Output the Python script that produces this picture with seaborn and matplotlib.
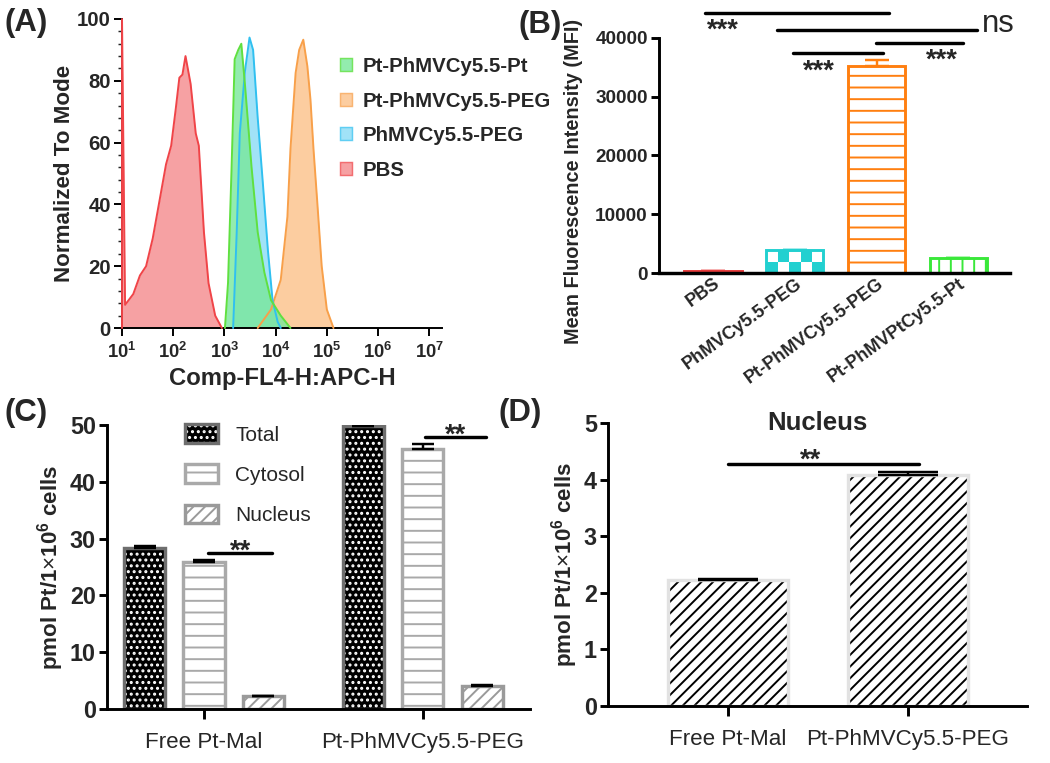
import numpy as np
import pandas as pd
import matplotlib
matplotlib.use('Agg')
import matplotlib.pyplot as plt
import seaborn as sns
from matplotlib.patches import Patch, Rectangle
from matplotlib.colors import ListedColormap
from matplotlib.ticker import MultipleLocator, LogLocator, NullFormatter

# (A) flow histograms: log10(intensity) and % of mode
pbs_log = [1.0, 1.0, 1.06, 1.22, 1.35, 1.47, 1.60, 1.73, 1.86, 1.96, 2.05, 2.12, 2.18, 2.24,
           2.34, 2.44, 2.50, 2.60, 2.69, 2.82, 2.95]
pbs_y = [0, 100, 7.5, 11, 17, 20, 29, 41, 53, 59, 71, 81, 82, 88, 79, 63, 59, 31, 14.5, 4, 0]
peg_log = [3.65, 3.91, 4.10, 4.23, 4.29, 4.39, 4.46, 4.54, 4.62, 4.68, 4.74, 4.81, 4.90, 5.0, 5.13]
peg_y = [0, 6, 15.6, 36, 58, 82.5, 90, 93.3, 84.7, 74, 57.8, 41.5, 20, 6, 0]
phmv_log = [3.17, 3.24, 3.30, 3.40, 3.49, 3.56, 3.65, 3.75, 3.85, 3.94, 4.04, 4.10]
phmv_y = [0, 31, 63, 83, 94, 90, 68, 47, 25, 9, 2, 0]
ptpt_log = [3.01, 3.07, 3.14, 3.20, 3.27, 3.33, 3.40, 3.53, 3.65, 3.78, 3.91, 4.10, 4.29]
ptpt_y = [0, 14.5, 52, 87, 90, 92, 79, 52, 31, 18, 9, 4, 0]

# (B) mean fluorescence intensity
b_samples = ['PBS', 'PhMVCy5.5-PEG', 'Pt-PhMVCy5.5-PEG', 'Pt-PhMVPtCy5.5-Pt']
b_mfi = [300, 3900, 35200, 2500]
b_err = [0, 0, 1100, 0]

# (C)/(D) platinum per 1e6 cells
c_groups = ['Free Pt-Mal', 'Pt-PhMVCy5.5-PEG']
c_total = [28.3, 49.8]
c_total_err = [0.4, 0.1]
c_cytosol = [25.9, 45.8]
c_cytosol_err = [0.4, 0.9]
nucleus = [2.22, 4.08]
nucleus_err = [0.03, 0.06]

sns.set_style('ticks')
plt.rcParams['font.family'] = ['Liberation Sans', 'DejaVu Sans']
plt.rcParams['mathtext.fontset'] = 'custom'
plt.rcParams['mathtext.rm'] = 'Liberation Sans'
plt.rcParams['mathtext.bf'] = 'Liberation Sans:bold'
plt.rcParams['hatch.linewidth'] = 2.0

fig = plt.figure(figsize=(15, 10.9), dpi=70)
axA = fig.add_axes([0.1162, 0.5701, 0.3048, 0.4050])
axB = fig.add_axes([0.6276, 0.6422, 0.3343, 0.3080])
axC = fig.add_axes([0.1019, 0.0708, 0.4029, 0.3722])
axD = fig.add_axes([0.5790, 0.0747, 0.3990, 0.3709])


def style_axis(ax, lw):
    sns.despine(ax=ax)
    for s in ['left', 'bottom']:
        ax.spines[s].set_linewidth(lw)
        ax.spines[s].set_color('black')
    ax.tick_params(width=lw, length=8, color='black')


def two_tone(ax, bars, face, hatch, hatch_color, edge, lw):
    # hatch and outline in different colours -> draw the outline on top
    for p in bars:
        p.set_facecolor(face)
        p.set_edgecolor(hatch_color)
        p.set_hatch(hatch)
        p.set_linewidth(0)
        ax.add_patch(Rectangle(p.get_xy(), p.get_width(), p.get_height(), fill=False,
                               edgecolor=edge, linewidth=lw, zorder=p.get_zorder() + 0.1))


# ---------- (A)
hists = {
    'PBS': (pbs_log, pbs_y, '#f04448', '#f37a7c', 0.7),
    'Pt-PhMVCy5.5-PEG': (peg_log, peg_y, '#f8a04a', '#fbb878', 0.7),
    'PhMVCy5.5-PEG': (phmv_log, phmv_y, '#30c0f0', '#7ad6f5', 0.7),
    'Pt-PhMVCy5.5-Pt': (ptpt_log, ptpt_y, '#60e040', '#78e89a', 0.8),
}
for name, (lg, y, line, fill, a) in hists.items():
    x = 10 ** np.array(lg)
    axA.fill_between(x, y, color=fill, alpha=a, lw=0)
    sns.lineplot(x=x, y=y, ax=axA, color=line, lw=2, sort=False, estimator=None,
                 zorder=3, clip_on=False)
axA.set_xscale('log')
axA.set_xlim(10, 10 ** 7.25)
axA.set_ylim(0, 100)
style_axis(axA, 2)
axA.set_yticks(range(0, 101, 20))
axA.yaxis.set_minor_locator(MultipleLocator(4))
axA.set_xticks([10 ** k for k in range(1, 8)])
axA.set_xticklabels([r'$\mathbf{10^{%d}}$' % k for k in range(1, 8)])
axA.xaxis.set_minor_locator(LogLocator(subs=range(2, 10)))
axA.xaxis.set_minor_formatter(NullFormatter())
axA.tick_params(which='minor', length=4, width=1.5)
axA.tick_params(axis='x', labelsize=19, pad=6)
axA.tick_params(axis='y', labelsize=21)
for t in axA.get_yticklabels():
    t.set_fontweight('bold')
axA.set_xlabel('Comp-FL4-H:APC-H', fontsize=24.5, fontweight='bold', labelpad=5)
axA.set_ylabel('Normalized To Mode', fontsize=23, fontweight='bold', labelpad=2)
leg_order = ['Pt-PhMVCy5.5-Pt', 'Pt-PhMVCy5.5-PEG', 'PhMVCy5.5-PEG', 'PBS']
leg_handles = [Patch(facecolor=hists[k][3], edgecolor=hists[k][2], alpha=hists[k][4], lw=1.5)
               for k in leg_order]
axA.legend(leg_handles, leg_order, loc='upper left',
           bbox_to_anchor=(340 / 1050, 1 - 57 / 763), bbox_transform=fig.transFigure,
           frameon=False, prop={'size': 21, 'weight': 'bold'}, handlelength=0.6,
           handleheight=0.6, handletextpad=0.5, labelspacing=0.76, borderpad=0, borderaxespad=0)

# ---------- (B)
b_colors = ['#e83a3a', '#22d0d0', '#ff7f10', '#3ae83a']
b_df = pd.DataFrame({'sample': b_samples, 'mfi': b_mfi})
sns.barplot(data=b_df, x='sample', y='mfi', hue='sample', palette=b_colors, legend=False,
            width=0.7, errorbar=None, ax=axB)
bars = list(axB.patches)
b_hatch = [None, None, '-', '|']
for p, c, h in zip(bars, b_colors, b_hatch):
    p.set_facecolor('white')
    p.set_edgecolor(c)
    p.set_linewidth(3)
    if h:
        p.set_hatch(h)
bars[0].set_facecolor(b_colors[0])
# checkered bar
p = bars[1]
p.set_facecolor('none')
x0, y0 = p.get_xy()
board = np.indices((2, 5)).sum(axis=0) % 2
axB.imshow(board[::-1], cmap=ListedColormap(['white', b_colors[1]]), aspect='auto',
           extent=(x0, x0 + p.get_width(), y0, y0 + p.get_height()), origin='lower',
           zorder=0.9, clip_path=p)
for p, v, e, c in zip(bars, b_mfi, b_err, b_colors):
    axB.errorbar(p.get_x() + p.get_width() / 2, v, yerr=[[0], [e]], color=c,
                 capsize=12, elinewidth=2.5, capthick=2.5)
axB.set_xlim(-0.66, 3.63)
axB.set_ylim(0, 40000)
style_axis(axB, 3)
axB.spines['bottom'].set_linewidth(3.5)
axB.set_yticks(range(0, 40001, 10000))
axB.tick_params(axis='x', length=0, pad=2)
axB.tick_params(axis='y', labelsize=19.5)
axB.set_xticks(range(len(b_samples)))
axB.set_xticklabels(b_samples, rotation=36, ha='right', rotation_mode='anchor',
                    fontsize=18.5, fontweight='bold')
for t in axB.get_yticklabels():
    t.set_fontweight('bold')
axB.set_xlabel('')
axB.set_ylabel('Mean Fluorescence Intensity (MFI)', fontsize=20.5, fontweight='bold')
axB.yaxis.set_label_coords(-0.217, 0.39)

sig_lines = [(-0.10, 2.15, 44250), (0.78, 3.23, 41350), (1.99, 3.06, 39150), (0.98, 2.08, 37450)]
for xa, xb, yy in sig_lines:
    axB.plot([xa, xb], [yy, yy], color='black', lw=3.5, clip_on=False)
star_kw = dict(textcoords='offset points', ha='center', va='baseline', fontsize=28,
               fontweight='bold', annotation_clip=False)
axB.annotate('***', xy=(0.12, 44250), xytext=(0, -25), **star_kw)
axB.annotate('***', xy=(2.80, 39150), xytext=(0, -25), **star_kw)
axB.annotate('***', xy=(1.29, 37450), xytext=(0, -26), **star_kw)
axB.annotate('ns', xy=(3.23, 41350), xytext=(5, -2), textcoords='offset points', ha='left',
             va='baseline', fontsize=32, annotation_clip=False)

# ---------- (C)
fractions = ['Total', 'Cytosol', 'Nucleus']
c_df = pd.DataFrame({'formulation': c_groups * 3,
                     'fraction': [f for f in fractions for _ in c_groups],
                     'pt': c_total + c_cytosol + nucleus})
sns.barplot(data=c_df, x='formulation', y='pt', hue='fraction', hue_order=fractions,
            palette=['black', 'white', 'white'], width=0.815, gap=0.31, errorbar=None,
            legend=False, ax=axC)
conts = axC.containers
two_tone(axC, conts[0], 'black', '..', 'white', '#6e6e6e', 3.5)
for p in conts[1]:
    p.set_facecolor('white')
    p.set_edgecolor('#a9a9a9')
    p.set_hatch('-')
    p.set_linewidth(3.5)
for p in conts[2]:
    p.set_facecolor('white')
    p.set_edgecolor('#9a9a9a')
    p.set_hatch('//')
    p.set_linewidth(3.5)
for cont, vals, errs in zip(conts, [c_total, c_cytosol, nucleus],
                            [c_total_err, c_cytosol_err, nucleus_err]):
    xs = [p.get_x() + p.get_width() / 2 for p in cont]
    axC.errorbar(xs, vals, yerr=[[0] * len(errs), errs], fmt='none', color='black',
                 capsize=11.5, elinewidth=2.5, capthick=2.5, zorder=3)
axC.set_xlim(-0.443, 1.489)
axC.set_ylim(0, 50)
style_axis(axC, 3)
axC.set_yticks(range(0, 51, 10))
axC.tick_params(axis='y', labelsize=24)
axC.tick_params(axis='x', labelsize=23, length=10, pad=14)
for t in axC.get_yticklabels():
    t.set_fontweight('bold')
axC.set_xlabel('')
axC.set_ylabel(r'pmol Pt/1$\times$10$^{\mathbf{6}}$ cells', fontsize=23, fontweight='bold', labelpad=4)
c_handles = [(Patch(facecolor='black', edgecolor='white', hatch='..', lw=0),
              Patch(fill=False, edgecolor='#6e6e6e', lw=3.5)),
             Patch(facecolor='white', edgecolor='#a9a9a9', hatch='-', lw=3.5),
             Patch(facecolor='white', edgecolor='#9a9a9a', hatch='//', lw=3.5)]
axC.legend(c_handles, fractions, loc='upper left', bbox_to_anchor=(185 / 1050, 1 - 424 / 763),
           bbox_transform=fig.transFigure, frameon=False, fontsize=21.5, handlelength=1.6,
           handleheight=1.0, handletextpad=0.8, labelspacing=0.95, borderpad=0, borderaxespad=0)
for xa, xb, yy, xs in [(0.02, 0.31, 27.5, 0.165), (1.01, 1.29, 47.9, 1.15)]:
    axC.plot([xa, xb], [yy, yy], color='black', lw=3.5, clip_on=False)
    axC.annotate('**', xy=(xs, yy), xytext=(0, -6), **star_kw)

# ---------- (D)
d_df = pd.DataFrame({'formulation': c_groups, 'pt': nucleus})
sns.barplot(data=d_df, x='formulation', y='pt', color='white', width=0.667, errorbar=None, ax=axD)
two_tone(axD, list(axD.patches), 'white', '//', 'black', '#e2e2e2', 3.5)
xs = [p.get_x() + p.get_width() / 2 for p in axD.patches[:2]]
axD.errorbar(xs, nucleus, yerr=[[0, 0], nucleus_err], fmt='none', color='black',
             capsize=31, elinewidth=2.5, capthick=2.5, zorder=3)
axD.set_xlim(-0.667, 1.661)
axD.set_ylim(0, 5)
style_axis(axD, 3)
axD.set_yticks(range(0, 6))
axD.tick_params(axis='y', labelsize=24)
axD.tick_params(axis='x', labelsize=23, length=10, pad=14)
for t in axD.get_yticklabels():
    t.set_fontweight('bold')
axD.set_xlabel('')
axD.set_ylabel(r'pmol Pt/1$\times$10$^{\mathbf{6}}$ cells', fontsize=23, fontweight='bold', labelpad=4)
axD.text(0.501, 1.0, 'Nucleus', transform=axD.transAxes, ha='center', va='center',
         fontsize=26.5, fontweight='bold')
axD.plot([0.0, 1.06], [4.28, 4.28], color='black', lw=3.5)
axD.annotate('**', xy=(0.46, 4.28), xytext=(0, -4), **star_kw)

# panel letters
for lbl, x, y in [('(A)', 4, 23), ('(B)', 519, 25), ('(C)', 4, 413), ('(D)', 499, 413)]:
    fig.text(x / 1050, 1 - y / 763, lbl, fontsize=32, fontweight='bold', ha='left', va='center')

fig.savefig('out.png', dpi=70, facecolor='white')
